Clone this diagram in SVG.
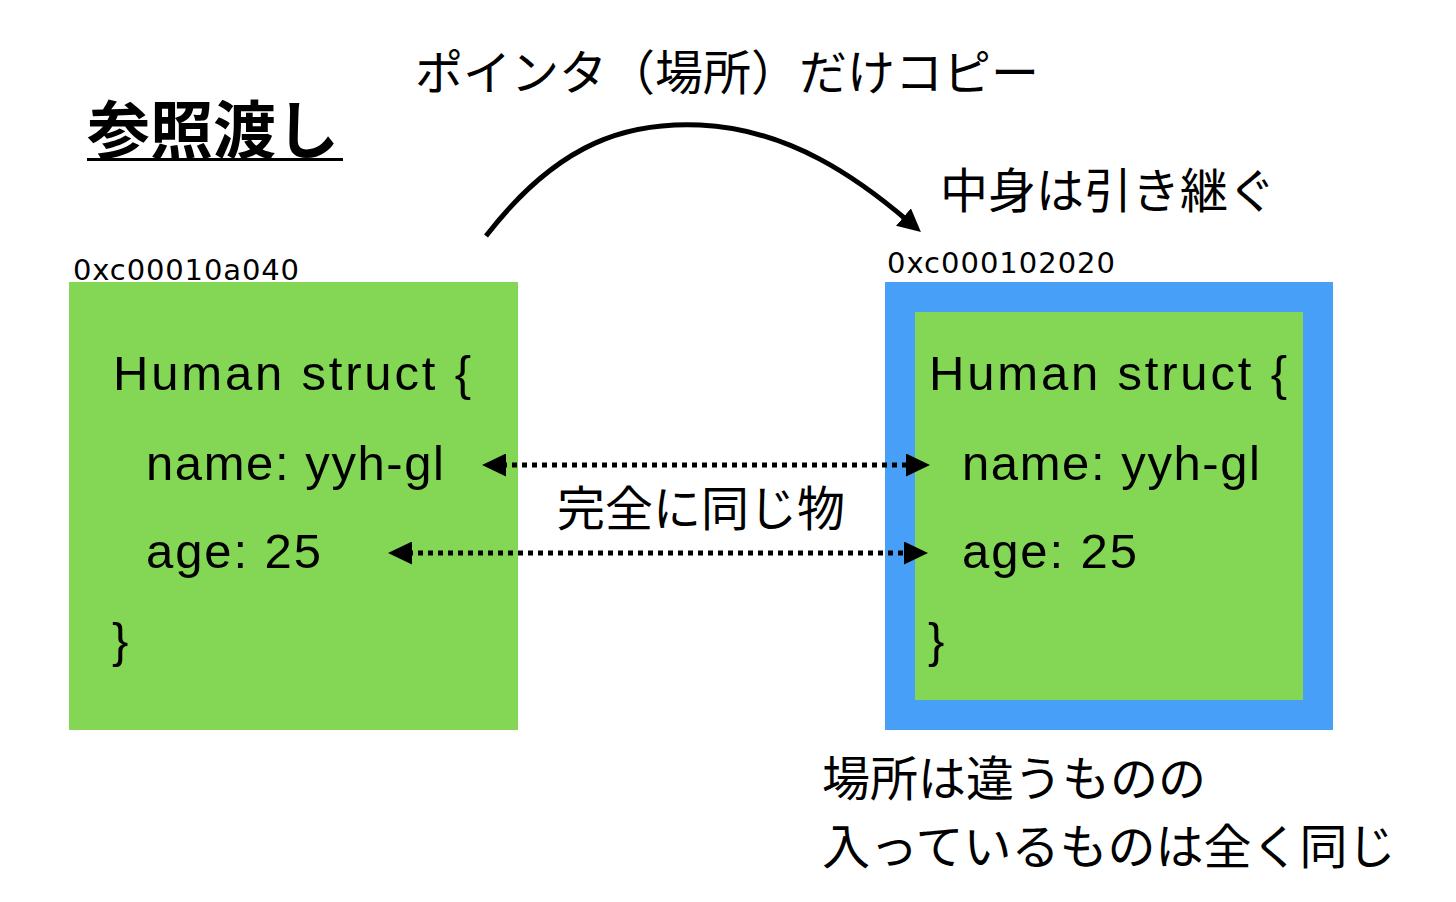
<svg xmlns="http://www.w3.org/2000/svg" width="1456" height="902" viewBox="0 0 1456 902">
  <style>
    .jp { font-family: "Noto Sans CJK JP", "Noto Sans", sans-serif; font-size: 48px; fill: #000; }
    .title { font-family: "Noto Sans CJK JP", "Noto Sans", sans-serif; font-size: 63px; font-weight: bold; fill: #000; }
    .addr { font-family: "DejaVu Sans", "Liberation Sans", sans-serif; font-size: 29px; fill: #000; }
    .code { font-family: "Liberation Sans", Arial, sans-serif; font-size: 49px; fill: #000; }
    .green { fill: #83d755; }
    .blue { fill: #489ff8; }
    .dotted { stroke: #000; stroke-width: 5; stroke-dasharray: 5 5; fill: none; }
    .curve { stroke: #000; stroke-width: 5; fill: none; }
  </style>
  <defs>
    <marker id="dotHead" markerUnits="userSpaceOnUse" markerWidth="24" markerHeight="23" refX="4" refY="11.5" orient="auto-start-reverse" viewBox="0 0 24 23">
      <path d="M0,0 L24,11.5 L0,23 Z" fill="#000"/>
    </marker>
    <marker id="curveHead" markerUnits="userSpaceOnUse" markerWidth="23" markerHeight="23" refX="6" refY="11.5" orient="auto" viewBox="0 0 23 23">
      <path d="M0,0 L23,11.5 L0,23 Z" fill="#000"/>
    </marker>
  </defs>
  <rect width="1456" height="902" fill="#fff"/>

  <g id="title">
    <text class="title" x="87" y="153">参照渡し</text>
    <rect x="87" y="158" width="256" height="3" fill="#000"/>
  </g>

  <g id="label-pointer-copy">
    <text class="jp" x="415" y="90">ポインタ（場所）だけコピー</text>
  </g>

  <g id="label-inherit">
    <text class="jp" x="940" y="208">中身は引き継ぐ</text>
  </g>

  <g id="node-original">
    <text class="addr" x="73" y="280" textLength="226">0xc00010a040</text>
    <rect class="green" x="69" y="282" width="449" height="448"/>
    <text class="code" x="113" y="390" textLength="358">Human struct {</text>
    <text class="code" x="146" y="480" textLength="298">name: yyh-gl</text>
    <text class="code" x="146" y="568" textLength="175">age: 25</text>
    <text class="code" x="112" y="657">}</text>
  </g>

  <g id="node-copy">
    <text class="addr" x="887" y="273" textLength="228">0xc000102020</text>
    <rect class="blue" x="885" y="282" width="448" height="448"/>
    <rect class="green" x="915" y="312" width="388" height="388"/>
    <text class="code" x="929" y="390" textLength="358">Human struct {</text>
    <text class="code" x="962" y="480" textLength="298">name: yyh-gl</text>
    <text class="code" x="962" y="568" textLength="175">age: 25</text>
    <text class="code" x="928" y="657">}</text>
  </g>

  <g id="label-same">
    <text class="jp" x="557" y="526">完全に同じ物</text>
  </g>

  <g id="label-note">
    <text class="jp" x="822" y="796">場所は違うものの</text>
    <text class="jp" x="822" y="864">入っているものは全く同じ</text>
  </g>

  <g id="connectors">
    <path class="curve" d="M486,236 C560,140 630,122 700,125 C790,129 860,180 908,221" marker-end="url(#curveHead)"/>
    <line class="dotted" x1="502" y1="465" x2="910" y2="465" marker-start="url(#dotHead)" marker-end="url(#dotHead)"/>
    <line class="dotted" x1="408" y1="553" x2="908" y2="553" marker-start="url(#dotHead)" marker-end="url(#dotHead)"/>
  </g>
</svg>
